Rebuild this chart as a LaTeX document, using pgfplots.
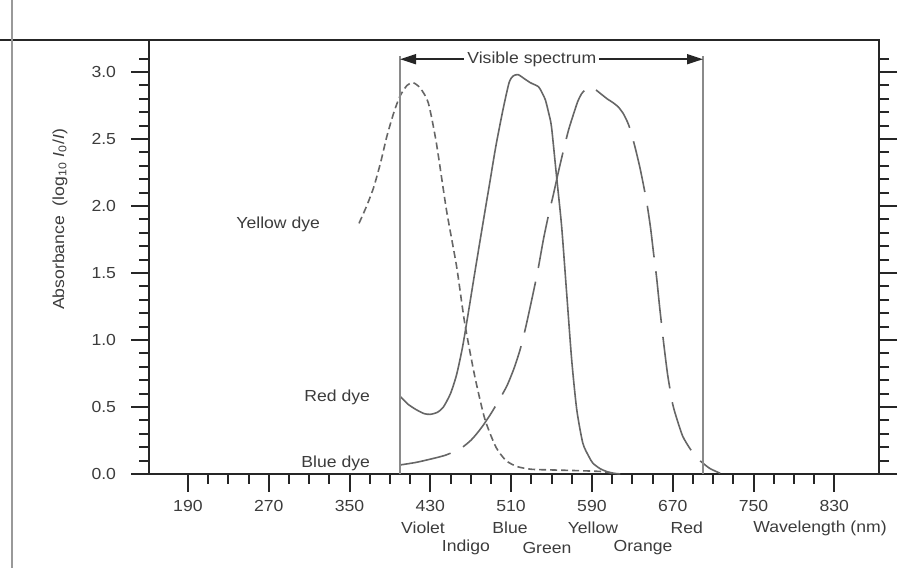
\documentclass[border=0pt]{standalone}
\usepackage{fontspec}
\setmainfont{Liberation Sans}[FakeStretch=1.1]
\usepackage{pgfplots}
\pgfplotsset{compat=1.18}
\usetikzlibrary{arrows.meta}
\definecolor{ink}{HTML}{3C3C3C}
\definecolor{curve}{HTML}{666666}
\definecolor{rule}{HTML}{8A8A8A}
\newcommand{\lbl}{\fontsize{8bp}{9.5bp}\selectfont}

\begin{document}
\begin{tikzpicture}
\begin{axis}[
  x=0.505bp, y=67bp,
  xmin=151.5, xmax=874.3, ymin=0, ymax=3.24,
  clip=false,
  axis line style={black!85, line width=1bp},
  tick style={black!85, line width=1bp},
  tick align=outside,
  major tick length=9bp, minor tick length=5bp,
  xtick={190,270,...,830}, minor xtick={210,230,...,830},
  ytick={0,0.5,...,3.0}, minor ytick={0.1,0.2,...,3.1},
  xtick pos=left, ytick pos=both, yticklabel pos=left,
  ticklabel style={font=\lbl, text=ink},
  /pgf/number format/assume math mode=true,
  xticklabel style={yshift=-0.5bp},
  yticklabel style={xshift=-4bp, /pgf/number format/fixed,
    /pgf/number format/fixed zerofill, /pgf/number format/precision=1},
]
% yellow dye
\addplot[curve, line width=0.8bp, dash pattern=on 3.5bp off 2bp, smooth, tension=0.4] coordinates {
(359.4,1.87)(367,2.00)(374,2.14)(381,2.33)(387,2.52)(394,2.70)(400,2.82)(407,2.90)
(413,2.92)(420,2.88)(428,2.77)(436,2.47)(446,1.97)(456,1.55)(464,1.13)(474,0.73)
(484,0.41)(495,0.20)(505,0.10)(516,0.055)(530,0.035)(550,0.03)(575,0.025)(600,0.018)(610,0.005)};
% red dye
\addplot[curve, line width=0.8bp, smooth, tension=0.4] coordinates {
(400,0.58)(408,0.52)(416,0.48)(424,0.45)(430,0.445)(437,0.46)(443,0.50)(450,0.60)
(456,0.74)(462,0.95)(468,1.22)(474,1.50)(481,1.82)(489,2.18)(495,2.45)
(502,2.72)(508,2.92)(512,2.97)(517,2.98)(523,2.95)(529,2.92)(537,2.89)(541,2.84)
(544,2.79)(547,2.70)(550,2.59)(555,2.22)(560,1.85)(565,1.35)(570,0.85)(575,0.48)
(581,0.23)(587,0.13)(591,0.08)(598,0.04)(605,0.017)(612,0.005)(618,0)};
% blue dye
\addplot[curve, line width=0.8bp, dash pattern=on 26bp off 7bp, smooth, tension=0.4] coordinates {
(400,0.067)(415,0.085)(427,0.105)(445,0.14)(460,0.19)(470,0.25)(477,0.31)(483,0.37)
(490,0.45)(498,0.55)(506,0.66)(513,0.79)(519,0.93)(524,1.08)(529,1.25)(536,1.50)
(542,1.75)(547,1.93)(552,2.09)(557,2.26)(562,2.42)(567,2.57)(572,2.69)(576,2.78)
(580,2.84)(584,2.87)(588,2.89)(592,2.88)(595,2.86)(600,2.83)(605,2.80)(611,2.77)
(616,2.74)(621,2.69)(625,2.63)(628,2.57)(633,2.43)(638,2.27)(644,2.04)(648,1.84)
(651,1.65)(654,1.47)(657,1.25)(661,0.98)(665,0.74)(670,0.52)(675,0.39)(680,0.28)
(687,0.19)(694,0.12)(700,0.08)(707,0.04)(717,0.005)};

% visible range
\draw[rule, line width=1.1bp] (axis cs:400,0) -- (axis cs:400,3.12);
\draw[rule, line width=1.1bp] (axis cs:700,0) -- (axis cs:700,3.12);
\draw[black!85, line width=0.8bp, {Triangle[length=8bp,width=5bp]}-{Triangle[length=8bp,width=5bp]}]
  (axis cs:400,3.095) -- (axis cs:700,3.095);
\node[fill=white, inner sep=1.5bp, text=ink, font=\lbl] at (axis cs:530.5,3.095) {Visible spectrum};

% series names
\node[anchor=east, text=ink, font=\lbl] at (axis cs:327.7,1.86) {Yellow dye};
\node[anchor=east, text=ink, font=\lbl] at (axis cs:377.2,0.57) {Red dye};
\node[anchor=east, text=ink, font=\lbl] at (axis cs:377.2,0.08) {Blue dye};

% colour names under the axis
\node[text=ink, font=\lbl] at (axis cs:422.8,-0.405) {Violet};
\node[text=ink, font=\lbl] at (axis cs:508.9,-0.405) {Blue};
\node[text=ink, font=\lbl] at (axis cs:591,-0.405) {Yellow};
\node[text=ink, font=\lbl] at (axis cs:684,-0.405) {Red};
\node[text=ink, font=\lbl] at (axis cs:815.8,-0.405) {Wavelength (nm)};
\node[text=ink, font=\lbl] at (axis cs:465.3,-0.55) {Indigo};
\node[text=ink, font=\lbl] at (axis cs:545.5,-0.55) {Green};
\node[text=ink, font=\lbl] at (axis cs:640.6,-0.55) {Orange};

% y label
\node[rotate=90, text=ink, font=\lbl] at (axis cs:63.4,1.9)
  {Absorbance~~(log\textsubscript{10} \textit{I}\textsubscript{0}/\textit{I})};

% frame line overhangs and page edge
\draw[black!85, line width=1bp] (rel axis cs:1,0) -- ++(10.5bp,0);
\draw[black!85, line width=1bp] (rel axis cs:1,1) -- ++(9bp,0);
\draw[black!85, line width=1bp] (rel axis cs:0,1) -- ++(-4.5bp,0);
\draw[black!40, line width=1bp] (axis cs:16.3,-0.7015) -- (axis cs:16.3,3.537);

\coordinate (bl) at (axis cs:3.96,-0.7015);
\coordinate (tr) at (axis cs:904.95,3.537);
\end{axis}
\pgfresetboundingbox
\path[use as bounding box] (bl) rectangle (tr);
\end{tikzpicture}
\end{document}
